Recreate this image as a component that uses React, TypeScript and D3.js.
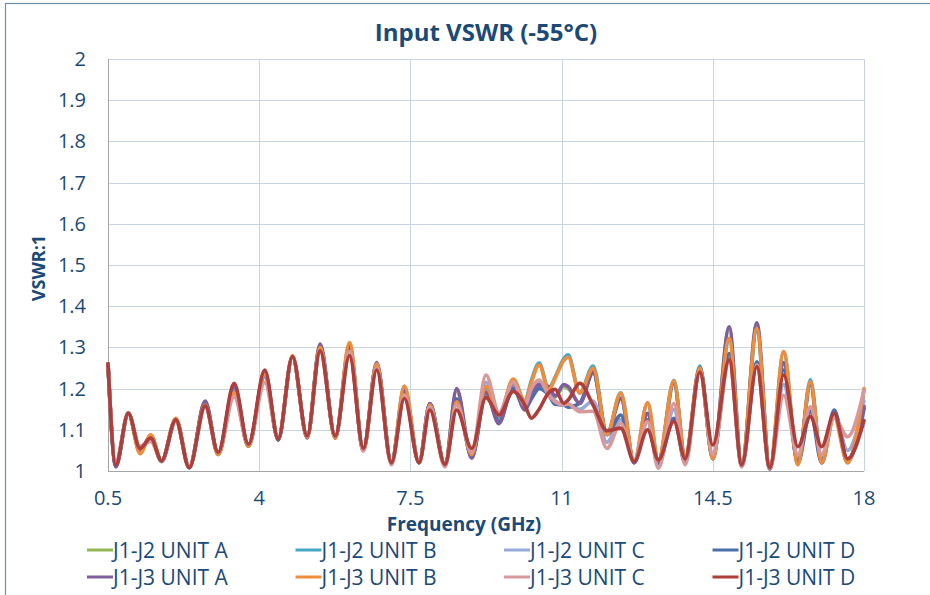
import { useEffect, useRef } from "react";
import * as d3 from "d3";

// frequency points (GHz) at peaks / troughs
const freqGHz = [
  0.5, 0.68, 0.97, 1.24, 1.49, 1.74, 2.07, 2.38, 2.75, 3.05, 3.42, 3.75, 4.13, 4.44, 4.77,
  5.11, 5.41, 5.76, 6.09, 6.41, 6.72, 7.06, 7.36, 7.7, 7.95, 8.3, 8.57, 8.92, 9.25, 9.55,
  9.88, 10.15, 10.3, 10.48, 10.7, 10.85, 11.05, 11.15, 11.42, 11.73, 12.05, 12.37, 12.68,
  12.99, 13.24, 13.6, 13.86, 14.2, 14.5, 14.88, 15.17, 15.52, 15.82, 16.14, 16.47, 16.76,
  17.02, 17.31, 17.62, 18,
];

const j1j2UnitA = [
  1.26, 1.012, 1.14, 1.048, 1.085, 1.023, 1.126, 1.008, 1.168, 1.04, 1.2, 1.06, 1.236, 1.076, 1.277,
  1.081, 1.305, 1.08, 1.298, 1.05, 1.26, 1.02, 1.193, 1.02, 1.163, 1.015, 1.195, 1.032, 1.19, 1.117,
  1.21, 1.15, 1.188, 1.207, 1.2, 1.18, 1.205, 1.2, 1.165, 1.238, 1.09, 1.175, 1.02, 1.138, 1.02,
  1.212, 1.03, 1.248, 1.03, 1.345, 1.012, 1.355, 1.005, 1.26, 1.02, 1.21, 1.02, 1.142, 1.025, 1.158,
];
const j1j2UnitB = [
  1.26, 1.018, 1.142, 1.045, 1.086, 1.025, 1.127, 1.01, 1.162, 1.041, 1.195, 1.06, 1.238, 1.079, 1.279,
  1.082, 1.302, 1.081, 1.308, 1.05, 1.262, 1.02, 1.205, 1.02, 1.162, 1.015, 1.17, 1.038, 1.2, 1.13,
  1.222, 1.17, 1.22, 1.262, 1.2, 1.228, 1.272, 1.282, 1.19, 1.255, 1.09, 1.19, 1.022, 1.165, 1.025,
  1.22, 1.033, 1.255, 1.03, 1.318, 1.014, 1.34, 1.006, 1.288, 1.016, 1.222, 1.02, 1.135, 1.02, 1.198,
];
const j1j2UnitC = [
  1.26, 1.015, 1.14, 1.055, 1.078, 1.024, 1.122, 1.009, 1.16, 1.043, 1.195, 1.063, 1.228, 1.078, 1.276,
  1.083, 1.296, 1.083, 1.292, 1.05, 1.252, 1.018, 1.188, 1.02, 1.16, 1.012, 1.165, 1.04, 1.215, 1.135,
  1.21, 1.155, 1.19, 1.215, 1.19, 1.17, 1.162, 1.16, 1.15, 1.17, 1.07, 1.125, 1.023, 1.122, 1.012,
  1.15, 1.018, 1.245, 1.038, 1.275, 1.012, 1.26, 1.005, 1.21, 1.03, 1.15, 1.03, 1.14, 1.05, 1.17,
];
const j1j2UnitD = [
  1.26, 1.012, 1.14, 1.05, 1.083, 1.023, 1.125, 1.008, 1.165, 1.042, 1.205, 1.062, 1.238, 1.076, 1.278,
  1.082, 1.302, 1.082, 1.295, 1.052, 1.258, 1.02, 1.19, 1.02, 1.164, 1.015, 1.175, 1.035, 1.19, 1.12,
  1.2, 1.15, 1.175, 1.2, 1.185, 1.162, 1.16, 1.155, 1.165, 1.24, 1.088, 1.136, 1.02, 1.124, 1.02,
  1.128, 1.02, 1.252, 1.035, 1.285, 1.012, 1.265, 1.005, 1.245, 1.02, 1.144, 1.02, 1.148, 1.025, 1.15,
];
const j1j3UnitA = [
  1.26, 1.01, 1.14, 1.05, 1.085, 1.023, 1.125, 1.008, 1.17, 1.04, 1.205, 1.06, 1.235, 1.075, 1.278,
  1.08, 1.308, 1.08, 1.3, 1.05, 1.263, 1.02, 1.195, 1.02, 1.164, 1.015, 1.2, 1.031, 1.19, 1.115,
  1.213, 1.148, 1.19, 1.209, 1.205, 1.182, 1.21, 1.205, 1.164, 1.24, 1.09, 1.177, 1.02, 1.14, 1.02,
  1.215, 1.03, 1.245, 1.03, 1.35, 1.012, 1.36, 1.005, 1.263, 1.02, 1.21, 1.02, 1.14, 1.025, 1.156,
];
const j1j3UnitB = [
  1.26, 1.02, 1.14, 1.042, 1.088, 1.025, 1.128, 1.01, 1.16, 1.04, 1.19, 1.06, 1.235, 1.08, 1.28,
  1.082, 1.3, 1.08, 1.312, 1.05, 1.26, 1.02, 1.206, 1.02, 1.16, 1.015, 1.168, 1.04, 1.205, 1.136,
  1.223, 1.168, 1.215, 1.257, 1.197, 1.225, 1.268, 1.276, 1.189, 1.249, 1.088, 1.189, 1.023, 1.166, 1.027,
  1.219, 1.035, 1.25, 1.03, 1.322, 1.015, 1.346, 1.007, 1.29, 1.015, 1.217, 1.02, 1.13, 1.02, 1.2,
];
const j1j3UnitC = [
  1.26, 1.02, 1.14, 1.06, 1.072, 1.025, 1.12, 1.01, 1.155, 1.045, 1.18, 1.065, 1.215, 1.08, 1.275,
  1.085, 1.29, 1.085, 1.29, 1.048, 1.25, 1.015, 1.185, 1.02, 1.155, 1.01, 1.16, 1.045, 1.233, 1.142,
  1.215, 1.16, 1.2, 1.221, 1.185, 1.168, 1.16, 1.163, 1.144, 1.145, 1.055, 1.116, 1.027, 1.12, 1.007,
  1.164, 1.015, 1.24, 1.04, 1.265, 1.01, 1.257, 1.005, 1.184, 1.04, 1.156, 1.04, 1.13, 1.083, 1.196,
];
const j1j3UnitD = [
  1.26, 1.015, 1.14, 1.055, 1.08, 1.025, 1.124, 1.008, 1.158, 1.045, 1.213, 1.065, 1.245, 1.078, 1.278,
  1.085, 1.292, 1.085, 1.28, 1.055, 1.245, 1.02, 1.176, 1.02, 1.148, 1.016, 1.148, 1.055, 1.178, 1.136,
  1.193, 1.16, 1.128, 1.15, 1.19, 1.198, 1.164, 1.172, 1.213, 1.16, 1.098, 1.104, 1.023, 1.1, 1.027,
  1.12, 1.03, 1.24, 1.063, 1.27, 1.015, 1.253, 1.008, 1.233, 1.059, 1.132, 1.059, 1.14, 1.03, 1.122,
];

const seriesNames = [
  "J1-J2 UNIT A", "J1-J2 UNIT B", "J1-J2 UNIT C", "J1-J2 UNIT D",
  "J1-J3 UNIT A", "J1-J3 UNIT B", "J1-J3 UNIT C", "J1-J3 UNIT D",
];
const seriesValues = [
  j1j2UnitA, j1j2UnitB, j1j2UnitC, j1j2UnitD,
  j1j3UnitA, j1j3UnitB, j1j3UnitC, j1j3UnitD,
];
const seriesColors = [
  "#93b656", "#45a9c4", "#97aad8", "#4a6fab",
  "#7d5e9f", "#ee8d3c", "#d9999a", "#ac3f3c",
];

const xTicks = [0.5, 4, 7.5, 11, 14.5, 18];
const yTicks = [1, 1.1, 1.2, 1.3, 1.4, 1.5, 1.6, 1.7, 1.8, 1.9, 2];

const TEXT = "#1b4a78";
const FONT = "'Open Sans', sans-serif";

export default function App() {
  const svgRef = useRef<SVGSVGElement>(null);

  useEffect(() => {
    if (!svgRef.current) return;
    const svg = d3.select(svgRef.current);
    svg.selectAll("*").remove();

    const plot = { left: 108, right: 864, top: 59, bottom: 471 };

    const x = d3.scaleLinear().domain([0.5, 18]).range([plot.left, plot.right]);
    const y = d3.scaleLinear().domain([1, 2]).range([plot.bottom, plot.top]);

    // outer chart frame
    svg
      .append("rect")
      .attr("x", 5.5)
      .attr("y", 3.5)
      .attr("width", 960)
      .attr("height", 620)
      .attr("fill", "#fff")
      .attr("stroke", "#6f8fae")
      .attr("stroke-width", 1.2);

    // gridlines
    svg
      .append("g")
      .selectAll("line")
      .data(yTicks.slice(1))
      .enter()
      .append("line")
      .attr("x1", plot.left)
      .attr("x2", plot.right)
      .attr("y1", (d) => Math.round(y(d)) + 0.5)
      .attr("y2", (d) => Math.round(y(d)) + 0.5)
      .attr("stroke", "#c8d5e1")
      .attr("stroke-width", 1);

    svg
      .append("g")
      .selectAll("line")
      .data(xTicks.slice(1))
      .enter()
      .append("line")
      .attr("x1", (d) => Math.round(x(d)) + 0.5)
      .attr("x2", (d) => Math.round(x(d)) + 0.5)
      .attr("y1", plot.top)
      .attr("y2", plot.bottom)
      .attr("stroke", "#c8d5e1")
      .attr("stroke-width", 1);

    // axis lines
    svg
      .append("line")
      .attr("x1", plot.left + 0.5)
      .attr("x2", plot.left + 0.5)
      .attr("y1", plot.top)
      .attr("y2", plot.bottom)
      .attr("stroke", "#a6a6a6");
    svg
      .append("line")
      .attr("x1", plot.left)
      .attr("x2", plot.right)
      .attr("y1", plot.bottom + 0.5)
      .attr("y2", plot.bottom + 0.5)
      .attr("stroke", "#a6a6a6");

    // tick labels
    svg
      .append("g")
      .selectAll("text")
      .data(yTicks)
      .enter()
      .append("text")
      .attr("x", 86)
      .attr("y", (d) => y(d) + 7)
      .attr("text-anchor", "end")
      .attr("font-family", FONT)
      .attr("font-size", 20)
      .attr("fill", TEXT)
      .text((d) => d3.format("~g")(d));

    svg
      .append("g")
      .selectAll("text")
      .data(xTicks)
      .enter()
      .append("text")
      .attr("x", (d) => x(d))
      .attr("y", 505)
      .attr("text-anchor", "middle")
      .attr("font-family", FONT)
      .attr("font-size", 20)
      .attr("fill", TEXT)
      .text((d) => d3.format("~g")(d));

    // titles
    svg
      .append("text")
      .attr("x", 486)
      .attr("y", 41)
      .attr("text-anchor", "middle")
      .attr("font-family", FONT)
      .attr("font-size", 24)
      .attr("font-weight", "bold")
      .attr("fill", TEXT)
      .text("Input VSWR (-55°C)");

    svg
      .append("text")
      .attr("x", 464)
      .attr("y", 531)
      .attr("text-anchor", "middle")
      .attr("font-family", FONT)
      .attr("font-size", 19)
      .attr("font-weight", "bold")
      .attr("fill", TEXT)
      .text("Frequency (GHz)");

    svg
      .append("text")
      .attr("transform", "translate(45,268) rotate(-90)")
      .attr("text-anchor", "middle")
      .attr("font-family", FONT)
      .attr("font-size", 18)
      .attr("font-weight", "bold")
      .attr("fill", TEXT)
      .text("VSWR:1");

    // series, first in the list drawn at the bottom
    const line = d3
      .line<number>()
      .curve(d3.curveMonotoneX)
      .x((_, i) => x(freqGHz[i]))
      .y((d) => y(d));

    svg
      .append("g")
      .selectAll("path")
      .data(seriesValues)
      .enter()
      .append("path")
      .attr("d", (d) => line(d))
      .attr("fill", "none")
      .attr("stroke", (_, i) => seriesColors[i])
      .attr("stroke-width", 3.6)
      .attr("stroke-linejoin", "round")
      .attr("stroke-linecap", "round");

    // legend, 2 rows of 4
    const legend = svg
      .append("g")
      .selectAll("g")
      .data(seriesNames)
      .enter()
      .append("g")
      .attr("transform", (_, i) => `translate(${87 + (i % 4) * 208.5},${i < 4 ? 550 : 577})`);

    legend
      .append("line")
      .attr("x1", 0)
      .attr("x2", 26)
      .attr("y1", 0)
      .attr("y2", 0)
      .attr("stroke", (_, i) => seriesColors[i])
      .attr("stroke-width", 3);

    legend
      .append("text")
      .attr("x", 26)
      .attr("y", 7.5)
      .attr("font-family", FONT)
      .attr("font-size", 21)
      .attr("fill", TEXT)
      .text((d) => d);
  }, []);

  return (
    <svg
      ref={svgRef}
      width={930}
      height={595}
      style={{ position: "absolute", left: 0, top: 0, display: "block" }}
    />
  );
}
